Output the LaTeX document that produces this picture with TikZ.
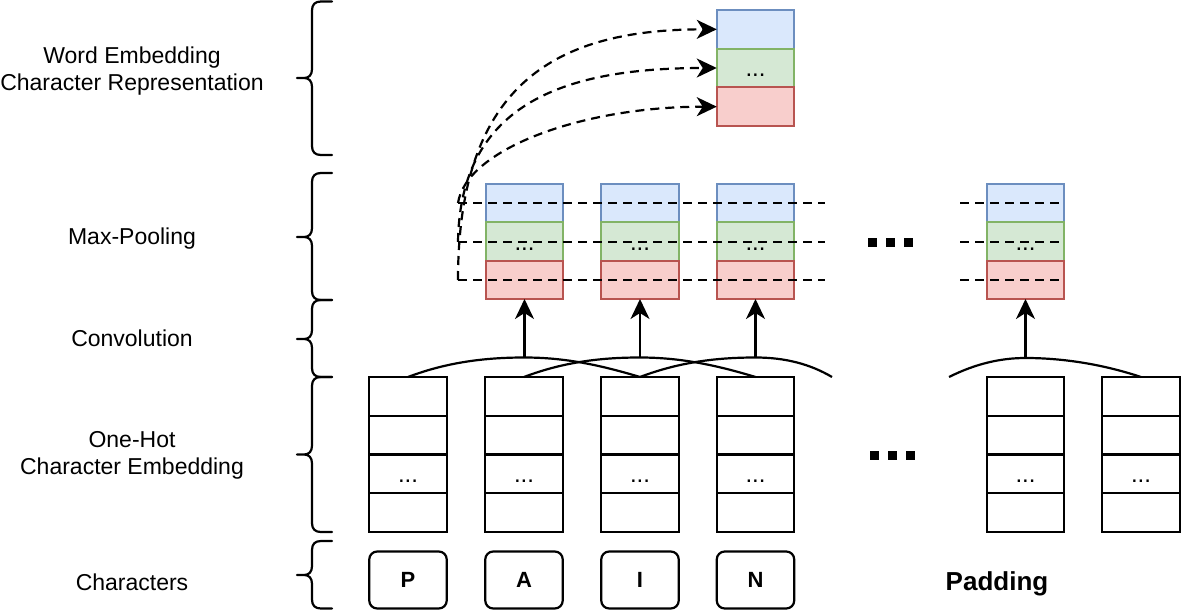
\documentclass[tikz,border=0pt]{standalone}
\usepackage{fontspec}
\setmainfont{Liberation Sans}
\usetikzlibrary{arrows.meta}
\definecolor{bfill}{HTML}{DAE8FC}\definecolor{bdraw}{HTML}{6C8EBF}
\definecolor{gfill}{HTML}{D5E8D4}\definecolor{gdraw}{HTML}{82B366}
\definecolor{rfill}{HTML}{F8CECC}\definecolor{rdraw}{HTML}{B85450}
\newcommand{\mybrace}[3]{%
  \draw[bracestyle] (332,#1) -- (321,#1) .. controls (315,#1) and (312,{#1+3}) .. (312,{#1+9})
    -- (312,{#2-9}) .. controls (312,{#2-3}) and (309,#2) .. (304,#2) -- (297,#2) -- (304,#2)
    .. controls (309,#2) and (312,{#2+3}) .. (312,{#2+9}) -- (312,{#3-9})
    .. controls (312,{#3-3}) and (315,#3) .. (321,#3) -- (332,#3);}
\begin{document}
\begin{tikzpicture}[x=1pt,y=-1pt,
  lw/.style={line width=2.2pt},
  bracestyle/.style={lw,line cap=round,line join=round},
  cell/.style={draw,lw,minimum width=77.5pt,minimum height=38.75pt,inner sep=0pt,outer sep=0pt},
  mpcell/.style={draw,lw,minimum width=77.5pt,minimum height=38.33pt,inner sep=0pt,outer sep=0pt},
  bluebox/.style={mpcell,fill=bfill,draw=bdraw},
  greenbox/.style={mpcell,fill=gfill,draw=gdraw},
  redbox/.style={mpcell,fill=rfill,draw=rdraw},
  dots/.style={font=\fontsize{24}{26}\selectfont,text height=17pt,text depth=0pt},
  lbl/.style={font=\fontsize{23}{27}\selectfont,align=center},
  charbox/.style={draw,lw,rounded corners=8pt,minimum width=77.5pt,minimum height=57pt,
    inner sep=0pt,font=\bfseries\fontsize{22}{26}\selectfont},
  sq/.style={fill=black,minimum size=9pt,inner sep=0pt},
  dline/.style={lw,dash pattern=on 9pt off 6pt},
  darr/.style={dline,-{Stealth[length=20pt,width=19pt,inset=6pt]}},
  arr/.style={lw,-{Stealth[length=20pt,width=19pt,inset=6pt]}},
  conv/.style={lw}]
\useasboundingbox (0,0) rectangle (1181,610);

% braces
\mybrace{1.5}{78}{155}
\mybrace{173}{237}{300}
\mybrace{300}{339}{377}
\mybrace{377}{454.5}{532}
\mybrace{541}{575}{608.5}

% labels
\node[lbl] (lwe) at (132,71.5) {Word Embedding\\Character Representation};
\node[lbl] (lmp) at (132,239) {Max-Pooling};
\node[lbl] (lcv) at (132,338) {Convolution};
\node[lbl] (loh) at (132,455.5) {One-Hot\\Character Embedding};
\node[lbl] (lch) at (132,582) {Characters};

% one-hot embedding columns
\foreach \i/\cx in {1/408,2/524,3/640,4/755.5,5/1025.5,6/1141} {
  \node[cell] (e\i-1) at (\cx,396.375) {};
  \node[cell] (e\i-2) at (\cx,435.125) {};
  \node[cell,dots] (e\i-3) at (\cx,473.875) {...};
  \node[cell] (e\i-4) at (\cx,512.625) {};
}

% characters
\node[charbox] (cP) at (408,580) {P};
\node[charbox] (cA) at (524,580) {A};
\node[charbox] (cI) at (640,580) {I};
\node[charbox] (cN) at (755.5,580) {N};
\node[font=\bfseries\fontsize{26}{30}\selectfont] (pad) at (997,584) {Padding};

% max-pooling columns
\foreach \i/\cx in {1/524.5,2/640,3/755.5,4/1025.5} {
  \node[bluebox] (m\i-b) at (\cx,203.17) {};
  \node[greenbox,dots] (m\i-g) at (\cx,241.5) {...};
  \node[redbox] (m\i-r) at (\cx,279.83) {};
}

% word embedding
\node[bluebox,minimum height=38.67pt] (wb) at (755.5,29.33) {};
\node[greenbox,dots,minimum height=38.67pt] (wg) at (755.5,68) {...};
\node[redbox,minimum height=38.67pt] (wr) at (755.5,106.67) {};

% ellipsis squares
\foreach \j/\x in {1/872,2/890,3/908} { \node[sq] (su\j) at (\x,242.5) {}; }
\foreach \j/\x in {1/874,2/892,3/910} { \node[sq] (sl\j) at (\x,455.5) {}; }

% convolution arcs
\coordinate (k1) at (524.5,357.5);
\coordinate (k2) at (640,357.5);
\coordinate (k3) at (755.5,357.5);
\coordinate (k4) at (1025.5,358);
\coordinate (arcend) at (832,377);
\coordinate (arcstart) at (949,377);
\draw[conv] (e1-1.north) .. controls (450,361) and (490,357.5) .. (k1)
  .. controls (565,357.5) and (600,365) .. (e3-1.north);
\draw[conv] (e2-1.north) .. controls (566,361) and (605,357.5) .. (k2)
  .. controls (680,357.5) and (716,365) .. (e4-1.north);
\draw[conv] (e3-1.north) .. controls (682,361) and (721,357.5) .. (k3)
  .. controls (785,357.5) and (810,364) .. (arcend);
\draw[conv] (arcstart) .. controls (975,364) and (1000,358) .. (k4)
  .. controls (1065,358) and (1105,365) .. (e6-1.north);
\draw[arr] (k1) -- (m1-r.south);
\draw[arr] (k2) -- (m2-r.south);
\draw[arr] (k3) -- (m3-r.south);
\draw[arr] (k4) -- (m4-r.south);

% dashed pooling lines
\coordinate (c1) at (458,280); \coordinate (d1) at (825,280);
\coordinate (c2) at (458,242);  \coordinate (d2) at (825,242);
\coordinate (c3) at (458,203); \coordinate (d3) at (825,203);
\coordinate (f1) at (960,280); \coordinate (g1) at (1060,280);
\coordinate (f2) at (960,242);  \coordinate (g2) at (1060,242);
\coordinate (f3) at (960,203); \coordinate (g3) at (1060,203);
\draw[dline] (c1) -- (d1);
\draw[dline] (c2) -- (d2);
\draw[dline] (c3) -- (d3);
\draw[dline] (f1) -- (g1);
\draw[dline] (f2) -- (g2);
\draw[dline] (f3) -- (g3);
\draw[darr] (c1) .. controls (458,80) and (560,29.33) .. (wb.west);
\draw[darr] (c2) .. controls (460,100) and (570,68) .. (wg.west);
\draw[darr] (c3) .. controls (466,150) and (580,106.67) .. (wr.west);
\end{tikzpicture}
\end{document}
